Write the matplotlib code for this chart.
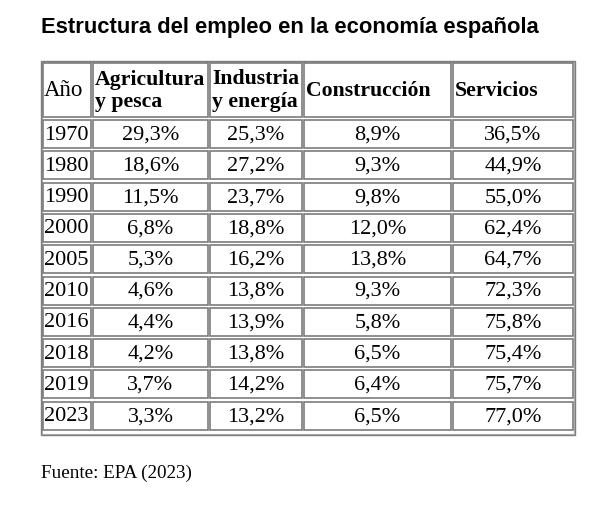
import matplotlib
matplotlib.use("Agg")
import matplotlib.pyplot as plt
from matplotlib.patches import Rectangle

years = [1970, 1980, 1990, 2000, 2005, 2010, 2016, 2018, 2019, 2023]
agricultura = [29.3, 18.6, 11.5, 6.8, 5.3, 4.6, 4.4, 4.2, 3.7, 3.3]
industria = [25.3, 27.2, 23.7, 18.8, 16.2, 13.8, 13.9, 13.8, 14.2, 13.2]
construccion = [8.9, 9.3, 9.8, 12.0, 13.8, 9.3, 5.8, 6.5, 6.4, 6.5]
servicios = [36.5, 44.9, 55.0, 62.4, 64.7, 72.3, 75.8, 75.4, 75.7, 77.0]
headers = ["Año", "Agricultura\ny pesca", "Industria\ny energía", "Construcción", "Servicios"]

title = "Estructura del empleo en la economía española"
source = "Fuente: EPA (2023)"

# layout in pixels
W, H = 613, 507
col_left = [43, 93, 210, 304, 453]
col_right = [91, 208, 302, 451, 573]
head_top, head_bot = 63, 117
row_top0, row_pitch, row_h = 120, 31.3, 28
border = "#7c7c7c"


def fmt(v):
    return ("%.1f%%" % v).replace(".", ",")


fig = plt.figure(figsize=(W / 100, H / 100), dpi=100)
ax = fig.add_axes([0, 0, 1, 1])
ax.set_xlim(0, W)
ax.set_ylim(H, 0)
ax.axis("off")

serif = "Liberation Serif"

ax.text(41, 27, title, fontsize=15.8, fontweight="bold", family="Liberation Sans",
        ha="left", va="center", color="black")

# outer table border (double line)
ax.add_patch(Rectangle((41, 61), 534, 374, fill=False, edgecolor=border, lw=1.0))
ax.add_patch(Rectangle((42.2, 62.2), 531.6, 371.6, fill=False, edgecolor="#a8a8a8", lw=0.8))

# header cells
for j, h in enumerate(headers):
    x0, x1 = col_left[j], col_right[j]
    ax.add_patch(Rectangle((x0, head_top), x1 - x0, head_bot - head_top,
                           fill=False, edgecolor=border, lw=1.2))
    if j == 0:
        ax.text(x0 + 1, (head_top + head_bot) / 2 + 1, h, fontsize=16.5,
                family=serif, ha="left", va="center")
    else:
        ax.text(x0 + 2, (head_top + head_bot) / 2 + 1, h, fontsize=15.7,
                fontweight="bold", family=serif, ha="left", va="center",
                linespacing=1.2)

# data cells
cols = [[str(y) for y in years], [fmt(v) for v in agricultura], [fmt(v) for v in industria],
        [fmt(v) for v in construccion], [fmt(v) for v in servicios]]
for i in range(len(years)):
    y0 = row_top0 + i * row_pitch
    for j, col in enumerate(cols):
        x0, x1 = col_left[j], col_right[j]
        ax.add_patch(Rectangle((x0, y0), x1 - x0, row_h, fill=False,
                               edgecolor=border, lw=1.2))
        if j == 0:
            ax.text(x0 + 1, y0 + row_h / 2 + 1, col[i], fontsize=16, family=serif,
                    ha="left", va="center")
        else:
            ax.text((x0 + x1) / 2, y0 + row_h / 2 + 1, col[i], fontsize=16,
                    family=serif, ha="center", va="center")

ax.text(41, 473, source, fontsize=13.8, family=serif, ha="left", va="center")

fig.savefig("out.png", dpi=100, facecolor="white")
